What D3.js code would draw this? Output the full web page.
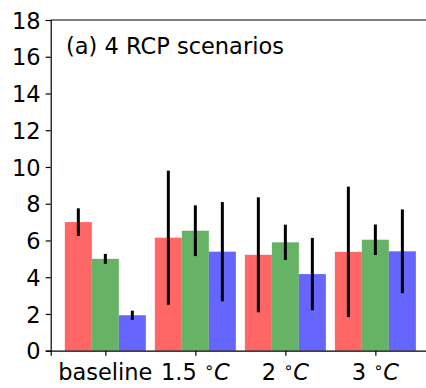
<!DOCTYPE html>
<html>
<head>
<meta charset="utf-8">
<script src="https://cdn.jsdelivr.net/npm/d3@7"></script>
<style>
  html, body { margin: 0; padding: 0; background: #fff; }
  svg { display: block; }
  text { font-family: "DejaVu Sans", sans-serif; fill: #000; }
</style>
</head>
<body>
<svg id="chart" width="426" height="388"></svg>
<script>
// Categories along x and the three scenario series (mean and half-range)
const categories = ["baseline", "1.5", "2", "3"];
const seriesNames = ["red", "green", "blue"];
const redValues   = [7.0, 6.15, 5.22, 5.38];
const redErrors   = [0.75, 3.65, 3.13, 3.55];
const greenValues = [5.0, 6.53, 5.9, 6.04];
const greenErrors = [0.27, 1.38, 0.96, 0.83];
const blueValues  = [1.93, 5.39, 4.17, 5.41];
const blueErrors  = [0.25, 2.7, 1.97, 2.28];
const yTicks = [0, 2, 4, 6, 8, 10, 12, 14, 16, 18];
const title = "(a) 4 RCP scenarios";

const colors = { red: "#ff6666", green: "#66b366", blue: "#6666ff" };
const series = [
  { name: "red",   values: redValues,   errors: redErrors },
  { name: "green", values: greenValues, errors: greenErrors },
  { name: "blue",  values: blueValues,  errors: blueErrors }
];

const svg = d3.select("#chart");
const plotLeft = 50.7, plotTop = 20, plotBottom = 350.7, plotRight = 430;
const barWidth = 0.3;
const fontSize = "22.5px";

const x = d3.scaleLinear().domain([-0.607, 3.607]).range([plotLeft, plotRight]);
const y = d3.scaleLinear().domain([0, 18]).range([plotBottom, plotTop]);

// Bars
series.forEach((s, si) => {
  const offset = (si - 1) * barWidth;
  svg.append("g").selectAll("rect")
    .data(s.values)
    .join("rect")
    .attr("x", (d, i) => x(i + offset - barWidth / 2))
    .attr("width", (d, i) => x(i + offset + barWidth / 2) - x(i + offset - barWidth / 2))
    .attr("y", d => y(d))
    .attr("height", d => y(0) - y(d))
    .attr("fill", colors[s.name]);
});

// Error bars
series.forEach((s, si) => {
  const offset = (si - 1) * barWidth;
  svg.append("g").selectAll("line")
    .data(s.values)
    .join("line")
    .attr("x1", (d, i) => x(i + offset))
    .attr("x2", (d, i) => x(i + offset))
    .attr("y1", (d, i) => y(d - s.errors[i]))
    .attr("y2", (d, i) => y(d + s.errors[i]))
    .attr("stroke", "#000")
    .attr("stroke-width", 3);
});

// Y axis
const yAxis = d3.axisLeft(y).tickValues(yTicks).tickSize(5).tickPadding(5);
const gy = svg.append("g").attr("transform", `translate(${plotLeft},0)`).call(yAxis);
gy.select(".domain").attr("stroke", "#000").attr("stroke-width", 1.2);
gy.selectAll(".tick line").attr("stroke", "#000").attr("stroke-width", 1.2);
gy.selectAll(".tick text").style("font-size", fontSize).attr("font-family", "DejaVu Sans").attr("dy", "0.36em");

// X axis
const xAxis = d3.axisBottom(x).tickValues(d3.range(categories.length)).tickSize(5).tickFormat(() => "");
const gx = svg.append("g").attr("transform", `translate(0,${plotBottom})`).call(xAxis);
gx.select(".domain").attr("stroke", "#000").attr("stroke-width", 1.2);
gx.selectAll(".tick line").attr("stroke", "#000").attr("stroke-width", 1.2);

// X tick labels: baseline, then temperatures with a degree sign and italic C
const labels = svg.append("g");
categories.forEach((c, i) => {
  const t = labels.append("text")
    .attr("x", x(i)).attr("y", 380)
    .attr("text-anchor", "middle")
    .style("font-size", fontSize);
  if (c === "baseline") {
    t.text(c);
  } else {
    t.append("tspan").text(c + " ");
    t.append("tspan").text("\u2218").style("font-size", "16px").attr("dy", "-7");
    t.append("tspan").text("C").style("font-style", "italic").attr("dy", "7");
  }
});

// Top spine
svg.append("line")
  .attr("x1", plotLeft).attr("x2", plotRight)
  .attr("y1", plotTop).attr("y2", plotTop)
  .attr("stroke", "#000").attr("stroke-width", 1.2);

// Panel title
svg.append("text")
  .attr("x", 66).attr("y", 54)
  .style("font-size", fontSize)
  .text(title);
</script>
</body>
</html>
